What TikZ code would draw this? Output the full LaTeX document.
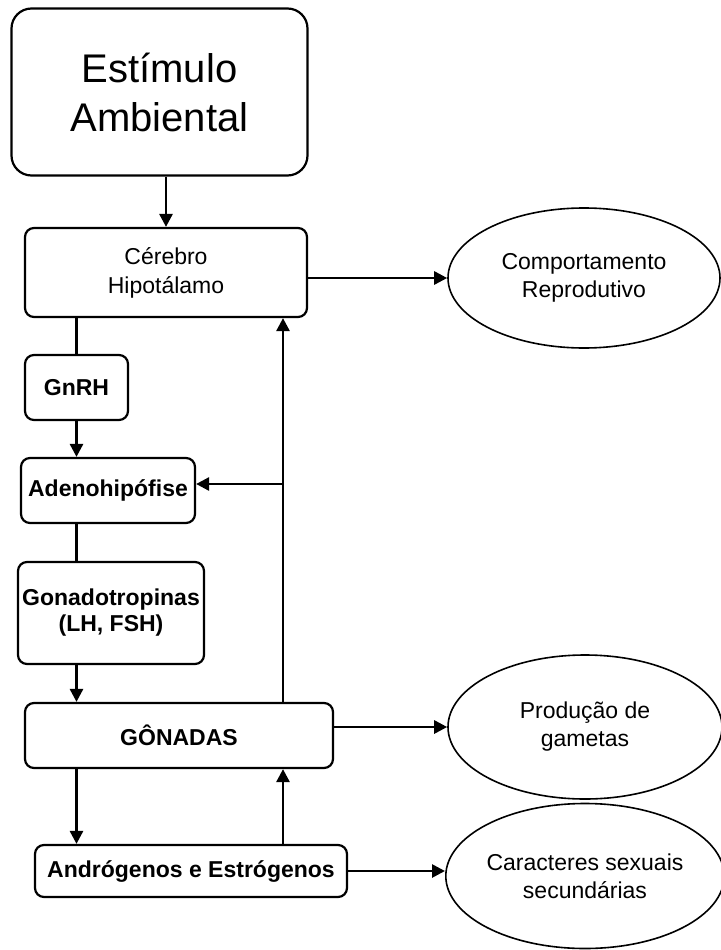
\documentclass[tikz,border=0pt]{standalone}
\usepackage{fontspec}
\setmainfont{Liberation Sans}
\usetikzlibrary{arrows.meta,shapes.geometric}

\begin{document}
\begin{tikzpicture}[x=1pt,y=-1pt,
  stagebox/.style={draw,line width=2.2pt,rounded corners=9pt,align=center,inner sep=0pt,
    font=\fontsize{23}{29}\selectfont},
  hormbox/.style={stagebox,font=\fontsize{23}{26}\selectfont\bfseries},
  effect/.style={draw,ellipse,line width=1.6pt,inner sep=0pt,align=center,
    minimum width=274pt,minimum height=144pt,font=\fontsize{23}{28}\selectfont},
  link/.style={line width=2.7pt,-{Triangle[length=13pt,width=13pt]}},
  wire/.style={line width=2.7pt}]
  \useasboundingbox (0,0) rectangle (720,950);

  \node[stagebox,rounded corners=20pt,minimum width=296pt,minimum height=167pt,
    font=\fontsize{40}{49}\selectfont] (estimulo) at (159.5,92) {Estímulo\\Ambiental};
  \node[stagebox,minimum width=282pt,minimum height=89pt] (cerebro) at (166,272.5)
    {Cérebro\\Hipotálamo};
  \node[hormbox,minimum width=103pt,minimum height=65pt] (gnrh) at (76.5,387.5) {GnRH};
  \node[hormbox,minimum width=174pt,minimum height=65pt] (adeno) at (108,490.5)
    {Adenohipófise};
  \node[hormbox,minimum width=186pt,minimum height=102pt] (gonado) at (111,613)
    {Gonadotropinas\\(LH, FSH)};
  \node[hormbox,minimum width=308pt,minimum height=65pt] (gonadas) at (179,735.5)
    {GÔNADAS};
  \node[hormbox,minimum width=312pt,minimum height=52pt] (andro) at (191,871)
    {Andrógenos e Estrógenos};

  \node[effect,minimum width=272pt,minimum height=140pt] (comport) at (584,278)
    {Comportamento\\Reprodutivo};
  \node[effect] (producao) at (585,727) {Produção de\\gametas};
  \node[effect,minimum height=145pt] (caracteres) at (585,876)
    {Caracteres sexuais\\secundárias};

  \coordinate (fb) at (283,484);

  \draw[link] (estimulo.south -| cerebro.north) -- (cerebro.north);
  \draw[link] (cerebro.east |- comport.west) -- (comport.west);
  \draw[wire] (gnrh.north |- cerebro.south) -- (gnrh.north);
  \draw[link] (gnrh.south) -- (gnrh.south |- adeno.north);
  \draw[wire] (gnrh.south |- adeno.south) -- (gnrh.south |- gonado.north);
  \draw[link] (gnrh.south |- gonado.south) -- (gnrh.south |- gonadas.north);
  \draw[link] (gnrh.south |- gonadas.south) -- (gnrh.south |- andro.north);
  \draw[link] (fb |- andro.north) -- (fb |- gonadas.south);
  \draw[link] (fb |- gonadas.north) -- (fb |- cerebro.south);
  \draw[link] (fb) -- (fb -| adeno.east);
  \draw[link] (gonadas.east |- producao.west) -- (producao.west);
  \draw[link] (andro.east) -- (andro.east -| caracteres.west);
\end{tikzpicture}
\end{document}
